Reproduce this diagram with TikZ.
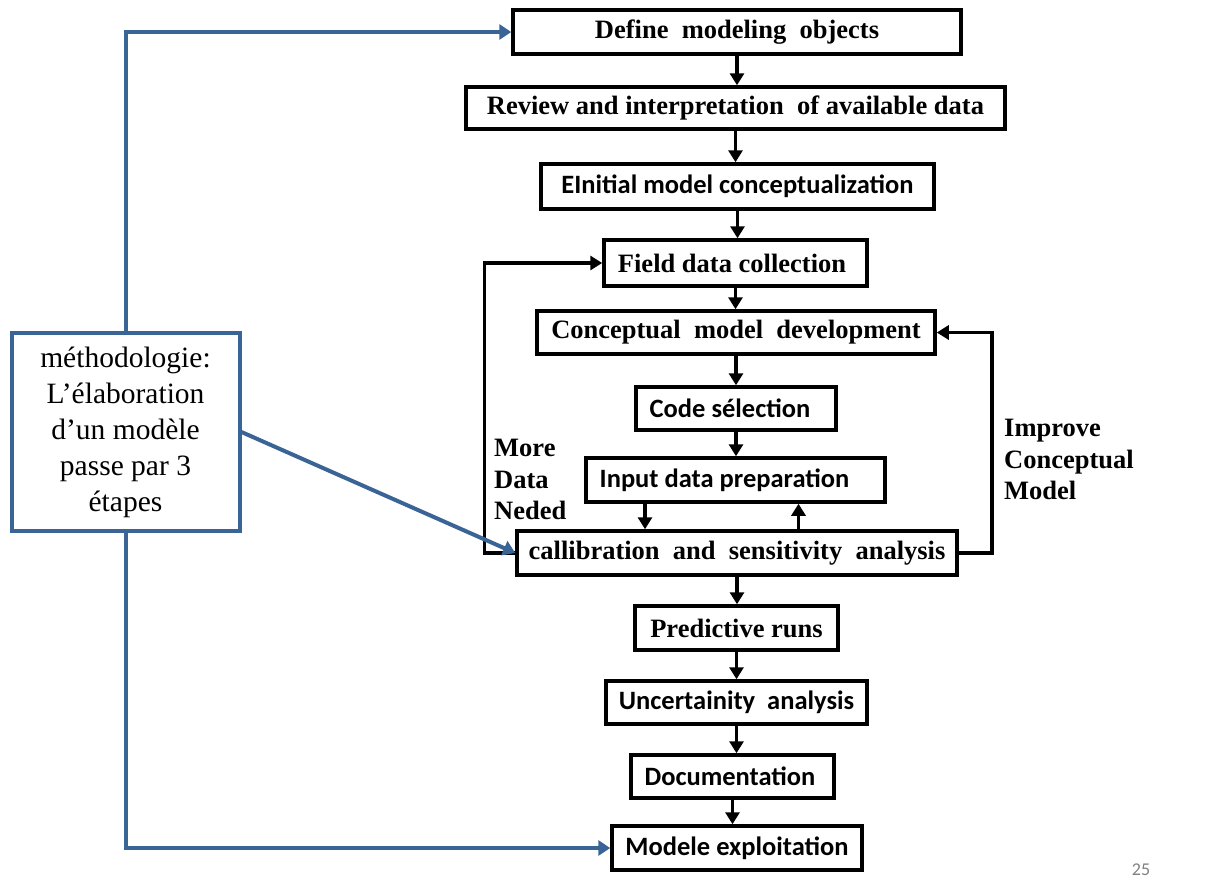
\documentclass[tikz,border=0pt]{standalone}
\usepackage{fontspec}
\setmainfont{Liberation Serif}
\newfontfamily\carl{Carlito}
\usetikzlibrary{arrows.meta}
\definecolor{blu}{RGB}{58,100,150}
\begin{document}
\begin{tikzpicture}[x=1pt,y=-1pt,
  box/.style={draw, line width=3.5pt, inner sep=0pt, minimum height=44pt},
  sf/.style={font=\carl\fontsize{26.5}{30}\selectfont\bfseries},
  rm/.style={font=\fontsize{26.5}{30}\selectfont\bfseries},
  blk/.style={line width=3.5pt, -{Triangle[length=12pt,width=14pt]}},
  bluln/.style={draw=blu, line width=4pt, -{Triangle[length=12pt,width=15pt]}, color=blu},
  lbl/.style={font=\fontsize{26.5}{31.5}\selectfont\bfseries, align=left, anchor=north west, inner sep=0pt}]
\useasboundingbox (0,0) rectangle (1208,892);
\node[box,rm,minimum width=448pt] (b1) at (737,32) {Define\ \ modeling\ \ objects};
\node[box,rm,minimum width=539pt,minimum height=42pt] (b2) at (735.5,108) {Review and interpretation\ \ of available data};
\node[box,sf,minimum width=393pt,minimum height=45pt] (b3) at (737.5,186.5) {EInitial model conceptualization};
\node[box,rm,minimum width=263pt,minimum height=46pt] (b4) at (735.5,263) {\hspace*{-7pt}Field data collection};
\node[box,rm,minimum width=398pt,minimum height=43pt] (b5) at (736,332.5) {Conceptual\ \ model\ \ development};
\node[box,sf,minimum width=200pt,minimum height=43pt] (b6) at (736,408.5) {\hspace*{-12pt}Code sélection};
\node[box,sf,minimum width=299pt] (b7) at (735.5,480) {\hspace*{-22pt}Input data preparation};
\node[box,rm,minimum width=440pt] (b8) at (737,553) {callibration\ \ and\ \ sensitivity\ \ analysis};
\node[box,rm,minimum width=203pt] (b9) at (736.5,628) {Predictive runs};
\node[box,sf,minimum width=261pt,minimum height=43pt] (b10) at (736.5,702.5) {Uncertainity\ \ analysis};
\node[box,sf,minimum width=203pt,minimum height=43pt] (b11) at (732.5,776.5) {\hspace*{-5pt}Documentation};
\node[box,sf,minimum width=250pt] (b12) at (737,848) {Modele exploitation};

\node[draw=blu, line width=4pt, minimum width=228pt, minimum height=198pt, inner sep=0pt,
  align=center, font=\fontsize{29.5}{36}\selectfont] (m) at (125.5,432)
  {méthodologie:\\L’élaboration\\d’un modèle\\passe par 3\\étapes};

\node[lbl] (t1) at (494,439) {More\\Data\\Neded};
\node[lbl] (t2) at (1004,419) {Improve\\Conceptual\\Model};
\node[font=\carl\fontsize{18}{20}\selectfont, text=gray, inner sep=0pt] (pg) at (1141,870) {25};

\foreach \a/\b in {b1/b2,b2/b3,b3/b4,b4/b5,b5/b6,b6/b7,b8/b9,b9/b10,b10/b11,b11/b12}
  \draw[blk] (\a.south) -- (\a.south |- \b.north);
\draw[blk] ([xshift=-90.5pt]b7.south) -- ([xshift=-90.5pt]b7.south |- b8.north);
\draw[blk] ([xshift=61.5pt]b8.north) -- ([xshift=61.5pt]b8.north |- b7.south);
\draw[blk] (b8.west) -- ++(-31,0) |- (b4.west);
\draw[blk] (b8.east) -- ++(33,0) |- (b5.east);

\draw[bluln] (m.north) |- (b1.west);
\draw[bluln] (m.south) |- (b12.west);
\draw[bluln] (m.east) -- (b8.west);
\end{tikzpicture}
\end{document}
